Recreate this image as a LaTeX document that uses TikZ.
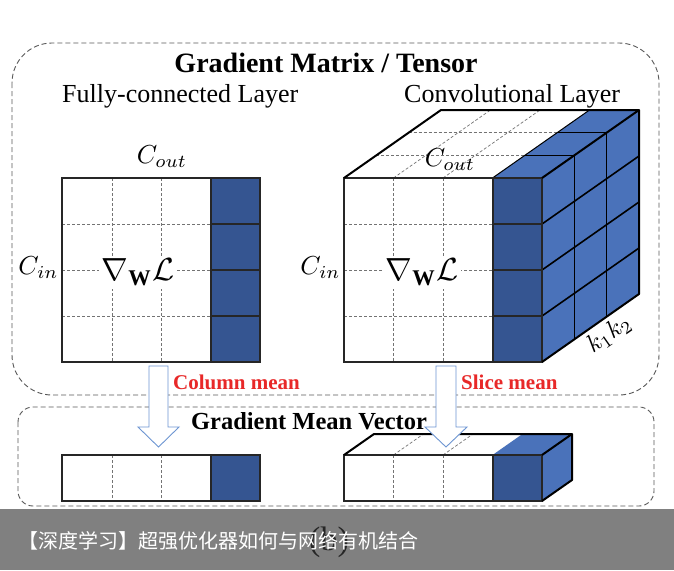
\documentclass[tikz,border=0pt]{standalone}
\usepackage{fontspec}
\setmainfont{Liberation Serif}
\newfontfamily\cjk{Noto Sans CJK SC}
\newcommand\mlbl[2]{\scalebox{#1}{$#2$}}
\definecolor{dblue}{RGB}{53,85,145}
\definecolor{lblue}{RGB}{74,114,186}
\definecolor{arrowc}{RGB}{110,150,210}
\definecolor{redt}{RGB}{232,40,40}
\definecolor{banner}{RGB}{128,128,128}
\begin{document}
\begin{tikzpicture}[x=1pt,y=-1pt,
  grid/.style={black!55,dash pattern=on 3pt off 2pt,line width=0.7pt},
  edge/.style={black!85,line width=2pt},
  bedge/.style={black,line width=1.6pt},
  frame/.style={black!65,dash pattern=on 5pt off 3pt,line width=0.9pt},
  mathlbl/.style={inner sep=1pt},
  barrow/.style={draw=arrowc,fill=white,line width=0.9pt},
  redlbl/.style={text=redt,font=\fontsize{21}{24}\selectfont\bfseries,anchor=base west,inner sep=0pt},
  hdr/.style={font=\fontsize{26}{30}\selectfont,anchor=base west,inner sep=0pt},
]
\useasboundingbox (0,0) rectangle (674,570);
\fill[white] (0,0) rectangle (674,570);

% frames
\draw[frame,rounded corners=40pt] (12,43) rectangle (659,395);
\draw[frame,rounded corners=15pt] (18,407) rectangle (654,506);

% headings
\node[font=\fontsize{28}{32}\selectfont\bfseries,anchor=base,inner sep=0pt] (title) at (326,72) {Gradient Matrix / Tensor};
\node[hdr] (fc) at (62,102) {Fully-connected Layer};
\node[hdr] (conv) at (404,102) {Convolutional Layer};

% ---------- left matrix ----------
\fill[white] (62,178) rectangle (260,362);
\foreach \x in {112,161} \draw[grid] (\x,178) -- (\x,362);
\foreach \y in {224,270,316} \draw[grid] (62,\y) -- (211,\y);
\fill[dblue] (211,178) rectangle (260,362);
\foreach \y in {224,270,316} \draw[edge] (211,\y) -- (260,\y);
\draw[edge] (211,178) -- (211,362);
\draw[edge] (62,178) rectangle (260,362);
\node[mathlbl] (coutL) at (162,157) {\mlbl{2.6}{C_{out}}};
\node[mathlbl] (cinL) at (38.5,268) {\mlbl{2.6}{C_{in}}};
\node[mathlbl,fill=white,inner sep=3pt] (gradL) at (138,272) {\mlbl{3.2}{\nabla_{\mathbf{W}}\mathcal{L}}};

% ---------- cube ----------
\fill[white] (344,178) -- (492.5,178) -- (589.5,110) -- (441,110) -- cycle;
\foreach \k in {1,2} \draw[grid] (344+32.33*\k,178-22.67*\k) -- (492.5+32.33*\k,178-22.67*\k);
\draw[grid] (393.5,178) -- (490.5,110);
\draw[grid] (443,178) -- (540,110);
\fill[lblue] (492.5,178) -- (542,178) -- (639,110) -- (589.5,110) -- cycle;
\foreach \k in {1,2} \draw[bedge] (492.5+32.33*\k,178-22.67*\k) -- (542+32.33*\k,178-22.67*\k);
\draw[black,line width=1pt] (492.5,178) -- (589.5,110);
\fill[lblue] (542,178) -- (639,110) -- (639,294) -- (542,362) -- cycle;
\foreach \y in {224,270,316} \draw[bedge] (542,\y) -- (639,\y-68);
\foreach \k in {1,2} \draw[bedge] (542+32.33*\k,178-22.67*\k) -- (542+32.33*\k,362-22.67*\k);
\fill[white] (344,178) rectangle (542,362);
\foreach \x in {393.5,443} \draw[grid] (\x,178) -- (\x,362);
\foreach \y in {224,270,316} \draw[grid] (344,\y) -- (492.5,\y);
\fill[dblue] (492.5,178) rectangle (542,362);
\foreach \y in {224,270,316} \draw[edge] (492.5,\y) -- (542,\y);
\draw[edge] (492.5,178) -- (492.5,362);
\draw[edge] (344,178) rectangle (542,362);
\draw[black,line width=2pt,line join=round] (344,178) -- (441,110) -- (639,110) -- (639,294) -- (542,362);
\draw[black,line width=2pt] (542,178) -- (639,110);
\node[mathlbl] (coutR) at (450,160) {\mlbl{2.6}{C_{out}}};
\node[mathlbl] (cinR) at (320.5,268) {\mlbl{2.6}{C_{in}}};
\node[mathlbl,fill=white,inner sep=3pt] (gradR) at (422,272) {\mlbl{3.2}{\nabla_{\mathbf{W}}\mathcal{L}}};
\node[inner sep=0pt,rotate=35] (kk) at (609,334) {\mlbl{2.5}{k_1k_2}};

% ---------- bottom left vector ----------
\fill[white] (62,455) rectangle (260,501);
\foreach \x in {112,161} \draw[grid] (\x,455) -- (\x,501);
\fill[dblue] (211,455) rectangle (260,501);
\draw[edge] (211,455) -- (211,501);
\draw[edge] (62,455) rectangle (260,501);

% ---------- bottom right vector ----------
\fill[white] (344,455) -- (492.5,455) -- (522.5,434) -- (374,434) -- cycle;
\draw[grid] (393.5,455) -- (423.5,434);
\draw[grid] (443,455) -- (473,434);
\fill[lblue] (492.5,455) -- (542,455) -- (572,434) -- (522.5,434) -- cycle;
\fill[lblue] (542,455) -- (572,434) -- (572,480) -- (542,501) -- cycle;
\fill[white] (344,455) rectangle (542,501);
\foreach \x in {393.5,443} \draw[grid] (\x,455) -- (\x,501);
\fill[dblue] (492.5,455) rectangle (542,501);
\draw[edge] (492.5,455) -- (492.5,501);
\draw[edge] (344,455) rectangle (542,501);
\draw[black,line width=2pt,line join=round] (344,455) -- (374,434) -- (572,434) -- (572,480) -- (542,501);
\draw[black,line width=2pt] (542,455) -- (572,434);

% ---------- block arrows ----------
\draw[barrow] (149,366) -- (168,366) -- (168,427) -- (179,427) -- (158.5,447) -- (138,427) -- (149,427) -- cycle;
\draw[barrow] (436,366) -- (456,366) -- (456,427) -- (467,427) -- (446,447) -- (425,427) -- (436,427) -- cycle;
\node[redlbl] (colmean) at (173,389) {Column mean};
\node[redlbl] (slicemean) at (461,389) {Slice mean};
\node[font=\fontsize{24.5}{28}\selectfont\bfseries,anchor=base,inner sep=0pt] (gmv) at (309,429) {Gradient Mean Vector};

% ---------- banner ----------
\fill[banner] (0,509) rectangle (674,570);
\node[text=black!85,font=\fontsize{34}{38}\selectfont,inner sep=0pt] (cap) at (329,542) {(b)};
\node[text=white,font=\cjk\fontsize{20}{24}\selectfont,anchor=west,inner sep=0pt] (bt) at (18,541) {【深度学习】超强优化器如何与网络有机结合};
\end{tikzpicture}
\end{document}
